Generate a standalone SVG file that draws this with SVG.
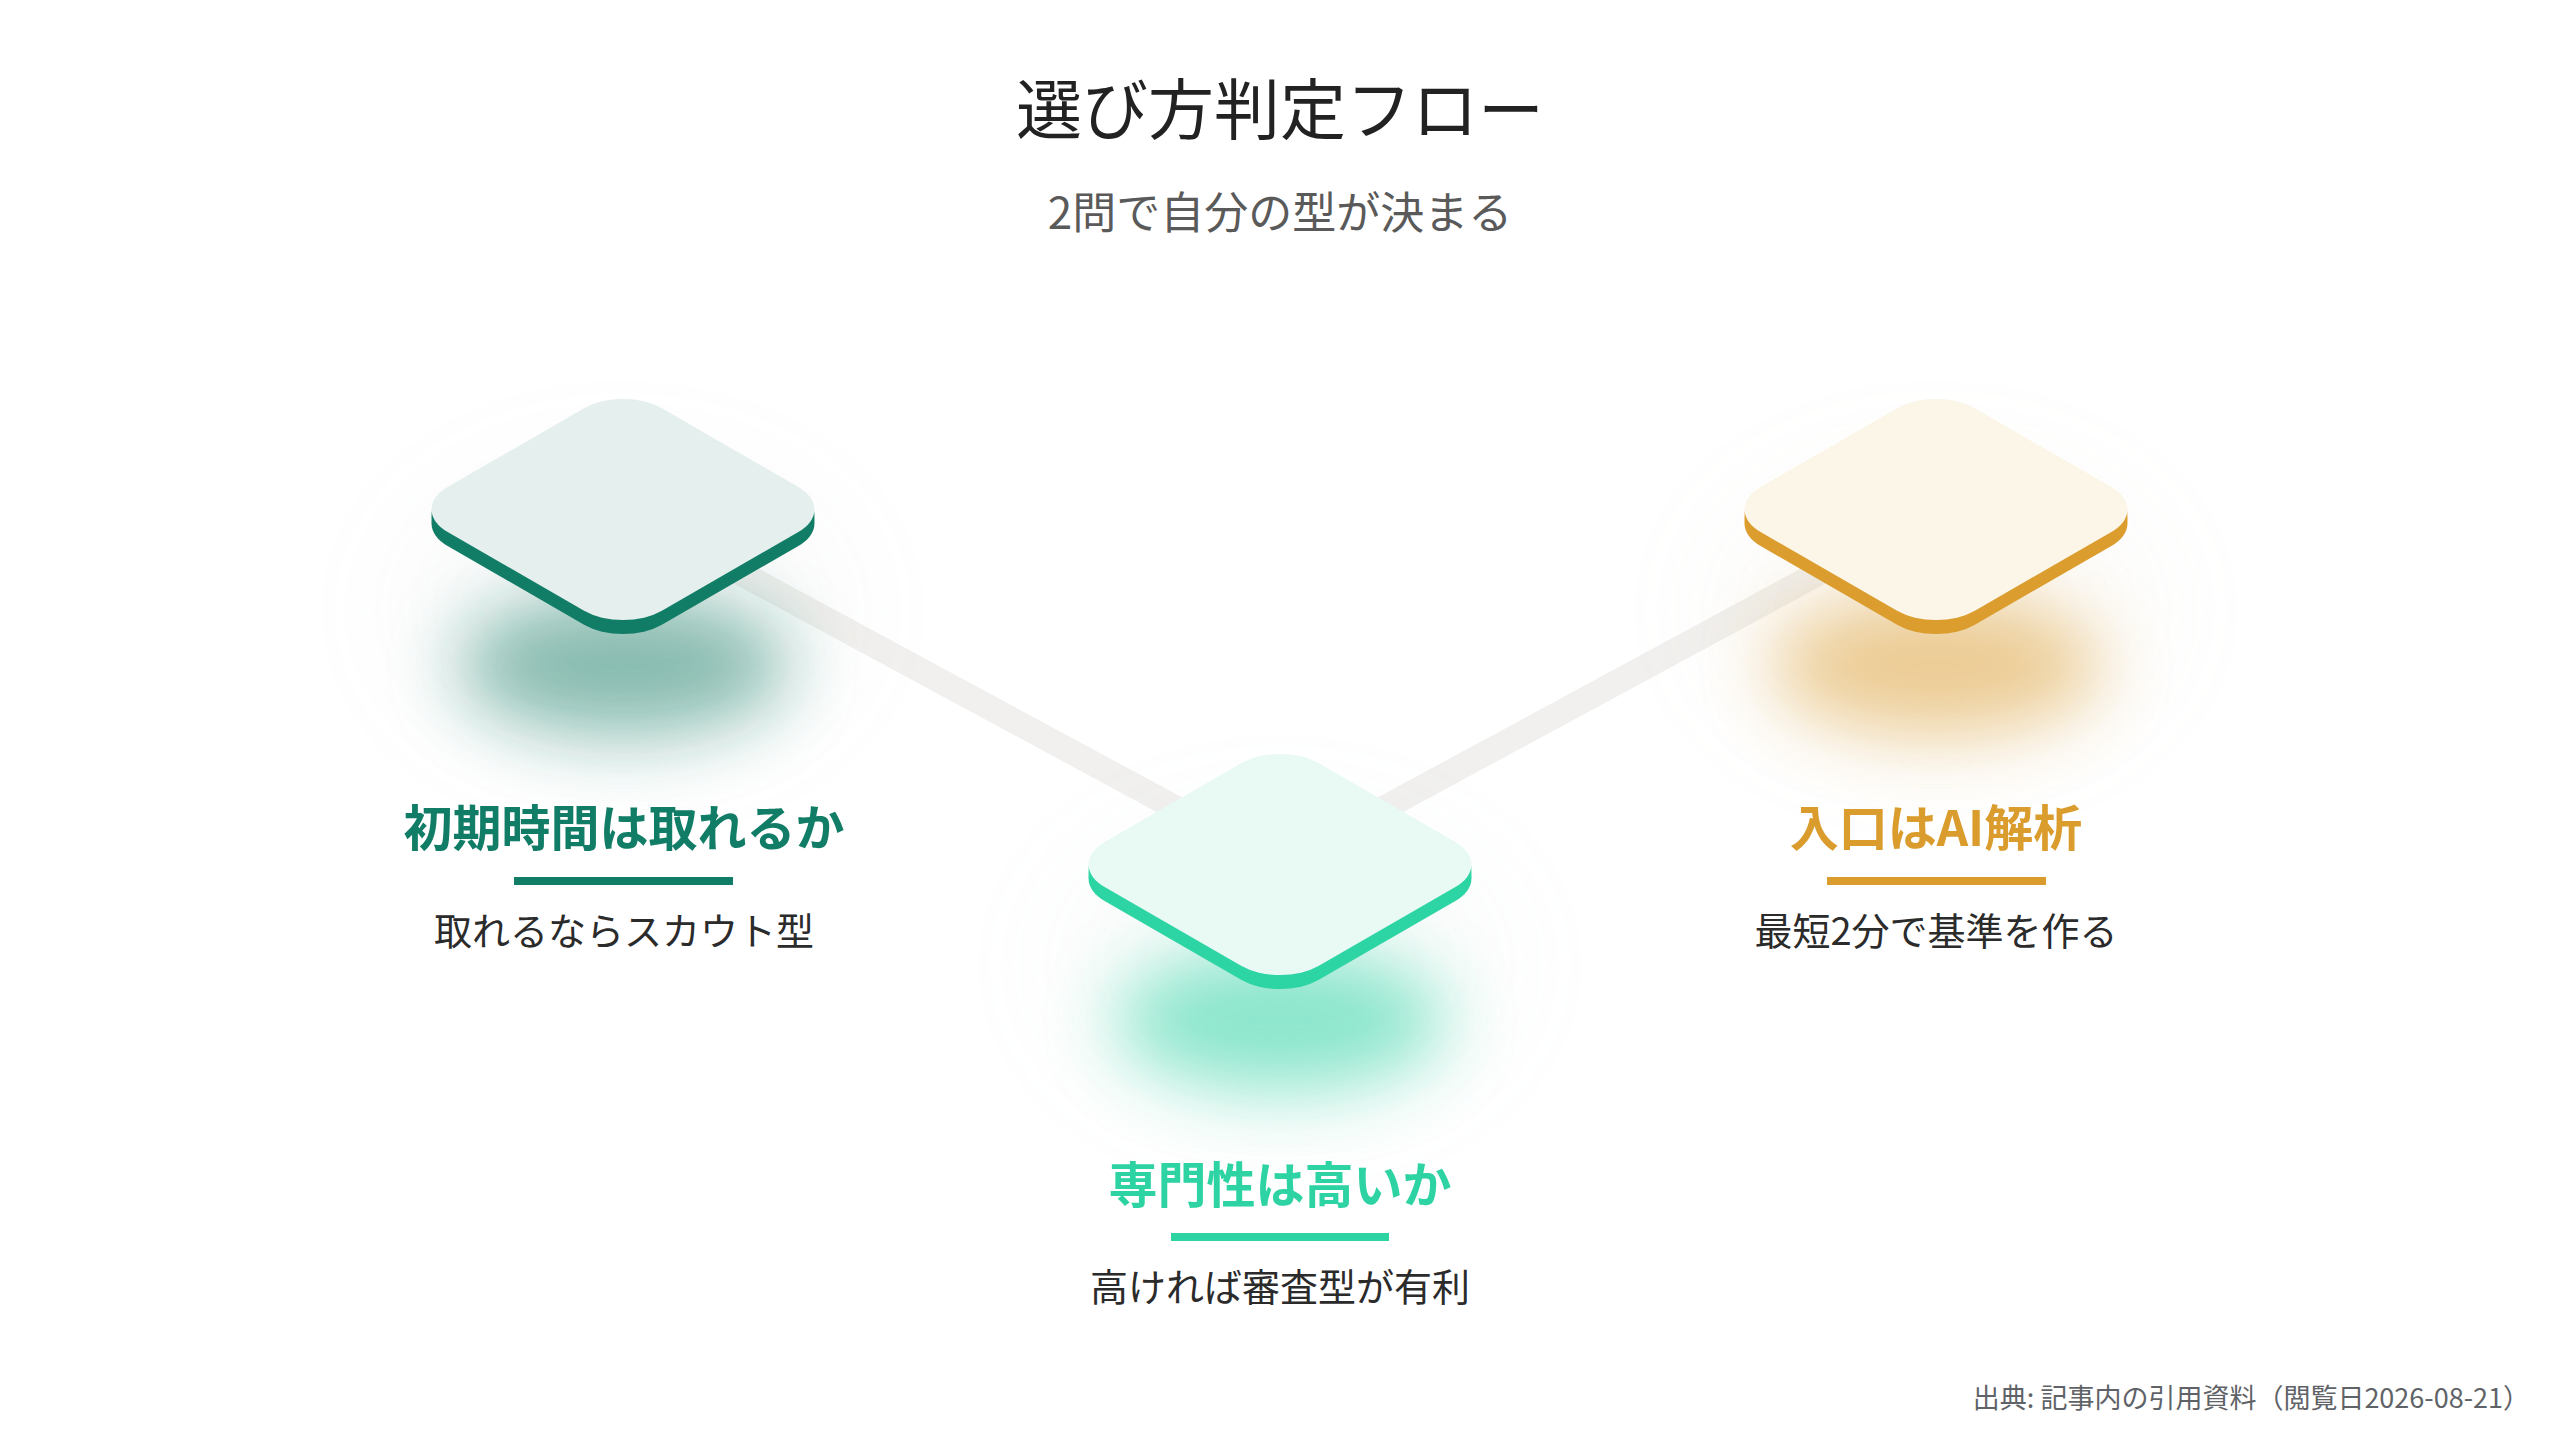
<svg xmlns="http://www.w3.org/2000/svg" xmlns:xlink="http://www.w3.org/1999/xlink" width="2560" height="1440" viewBox="0 0 2560 1440">
  <style>
    .title { font-family: "Noto Sans CJK JP", "Noto Sans", sans-serif; font-size: 66px; fill: #222222; text-anchor: middle; }
    .subtitle { font-family: "Noto Sans CJK JP", "Noto Sans", sans-serif; font-size: 44px; fill: #5a5a5a; text-anchor: middle; }
    .label { font-family: "Noto Sans CJK JP", "Noto Sans", sans-serif; font-size: 49px; font-weight: 700; text-anchor: middle; }
    .desc { font-family: "Noto Sans CJK JP", "Noto Sans", sans-serif; font-size: 38px; fill: #2b2b2b; text-anchor: middle; }
    .footer { font-family: "Noto Sans CJK JP", "Noto Sans", sans-serif; font-size: 27px; fill: #5f6368; text-anchor: end; }
    .connector { stroke: #F1F0EE; stroke-width: 25; stroke-linecap: butt; fill: none; }
  </style>
  <defs>
    <rect id="tile" x="-151.5" y="-151.5" width="303" height="303" rx="55" ry="55"/>
    <filter id="softBlur" x="-80%" y="-80%" width="260%" height="260%">
      <feGaussianBlur stdDeviation="36"/>
    </filter>
    <filter id="wideBlur" x="-80%" y="-80%" width="260%" height="260%">
      <feGaussianBlur stdDeviation="60"/>
    </filter>
  </defs>

  <rect x="0" y="0" width="2560" height="1440" fill="#FFFFFF"/>

  <text class="title" x="1280" y="134">選び方判定フロー</text>
  <text class="subtitle" x="1280" y="229">2問で自分の型が決まる</text>

  <g id="connectors">
    <line class="connector" x1="623" y1="509.5" x2="1280" y2="864.5"/>
    <line class="connector" x1="1280" y1="864.5" x2="1936" y2="509.5"/>
  </g>

  <g id="node-time">
    <ellipse cx="623" cy="610" rx="230" ry="150" fill="#9aa5a3" opacity="0.05" filter="url(#wideBlur)"/>
    <ellipse cx="623" cy="665" rx="165" ry="70" fill="#127D66" opacity="0.5" filter="url(#softBlur)"/>
    <g transform="translate(623,509.5)">
      <use href="#tile" transform="translate(0,14) scale(1,0.5774) rotate(45)" fill="#127D66"/>
      <use href="#tile" transform="translate(0,10) scale(1,0.5774) rotate(45)" fill="#127D66"/>
      <use href="#tile" transform="translate(0,5) scale(1,0.5774) rotate(45)" fill="#127D66"/>
      <use href="#tile" transform="scale(1,0.5774) rotate(45)" fill="#E4EFEE"/>
    </g>
    <text class="label" x="624" y="846" style="fill:#127D66">初期時間は取れるか</text>
    <rect x="514" y="877" width="219" height="8" fill="#127D66"/>
    <text class="desc" x="624" y="945">取れるならスカウト型</text>
  </g>

  <g id="node-expertise">
    <ellipse cx="1280" cy="965" rx="230" ry="150" fill="#9fb8b0" opacity="0.05" filter="url(#wideBlur)"/>
    <ellipse cx="1280" cy="1020" rx="165" ry="70" fill="#2DD4A4" opacity="0.55" filter="url(#softBlur)"/>
    <g transform="translate(1280,864.5)">
      <use href="#tile" transform="translate(0,14) scale(1,0.5774) rotate(45)" fill="#2DD4A4"/>
      <use href="#tile" transform="translate(0,10) scale(1,0.5774) rotate(45)" fill="#2DD4A4"/>
      <use href="#tile" transform="translate(0,5) scale(1,0.5774) rotate(45)" fill="#2DD4A4"/>
      <use href="#tile" transform="scale(1,0.5774) rotate(45)" fill="#E9FAF4"/>
    </g>
    <text class="label" x="1280" y="1203" style="fill:#2ED3A3">専門性は高いか</text>
    <rect x="1171" y="1233" width="218" height="8" fill="#2ED3A3"/>
    <text class="desc" x="1280" y="1301">高ければ審査型が有利</text>
  </g>

  <g id="node-entry">
    <ellipse cx="1936" cy="610" rx="230" ry="150" fill="#c9b89a" opacity="0.05" filter="url(#wideBlur)"/>
    <ellipse cx="1936" cy="665" rx="165" ry="70" fill="#DB9C2E" opacity="0.5" filter="url(#softBlur)"/>
    <g transform="translate(1936,509.5)">
      <use href="#tile" transform="translate(0,14) scale(1,0.5774) rotate(45)" fill="#DC9D2F"/>
      <use href="#tile" transform="translate(0,10) scale(1,0.5774) rotate(45)" fill="#DC9D2F"/>
      <use href="#tile" transform="translate(0,5) scale(1,0.5774) rotate(45)" fill="#DC9D2F"/>
      <use href="#tile" transform="scale(1,0.5774) rotate(45)" fill="#FCF6E9"/>
    </g>
    <text class="label" x="1936" y="846" style="fill:#DB9C2E">入口はAI解析</text>
    <rect x="1827" y="877" width="219" height="8" fill="#DB9C2E"/>
    <text class="desc" x="1936" y="945">最短2分で基準を作る</text>
  </g>

  <text class="footer" x="2530" y="1408">出典: 記事内の引用資料（閲覧日2026-08-21）</text>
</svg>
